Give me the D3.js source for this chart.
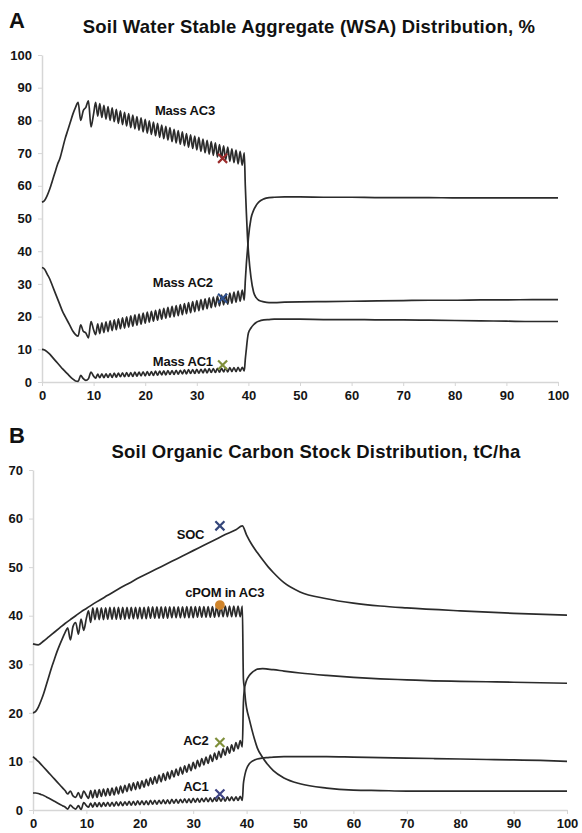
<!DOCTYPE html>
<html>
<head>
<meta charset="utf-8">
<script src="https://cdn.jsdelivr.net/npm/d3@7"></script>
<style>
  body { margin: 0; background: #fff; }
  svg { display: block; font-family: "Liberation Sans", Arial, sans-serif; }
</style>
</head>
<body>
<svg id="chart" width="582" height="833"></svg>
<script>
// time grid (years): early part, the seasonal zigzag part, and after the change at ~39 y
const earlyYears = [0, 0.5, 1, 1.5, 2, 2.5, 3, 3.5, 4, 4.5, 5, 5.5, 6, 6.5, 7, 7.5, 8, 8.5, 9, 9.5, 10];
const zigYears = [10.4, 10.8, 11.2, 11.6, 12, 12.4, 12.8, 13.2, 13.6, 14, 14.4, 14.8, 15.2, 15.6, 16, 16.4, 16.8, 17.2,
  17.6, 18, 18.4, 18.8, 19.2, 19.6, 20, 20.4, 20.8, 21.2, 21.6, 22, 22.4, 22.8, 23.2, 23.6, 24, 24.4, 24.8, 25.2,
  25.6, 26, 26.4, 26.8, 27.2, 27.6, 28, 28.4, 28.8, 29.2, 29.6, 30, 30.4, 30.8, 31.2, 31.6, 32, 32.4, 32.8, 33.2,
  33.6, 34, 34.4, 34.8, 35.2, 35.6, 36, 36.4, 36.8, 37.2, 37.6, 38, 38.4, 38.8, 39.2];
const lateYears = [39.4, 39.6, 39.8, 40, 40.5, 41, 41.5, 42, 43, 44, 45, 47, 50, 55, 60, 65, 70, 75, 80, 85, 90, 95, 100];
const years = earlyYears.concat(zigYears, lateYears);

// Panel A - water stable aggregates, %
const massAC3 = [
  55, 55.5, 57, 59, 61.5, 64, 66.5, 68.5, 71.5, 74.5, 77, 79.5, 82, 84, 85.5, 80, 83, 84, 86, 78, 82,
  85.5, 81.3, 85.1, 80.9, 84.6, 80.4, 84.2, 80.0, 83.8, 79.6,
  83.4, 79.1, 82.9, 78.7, 82.5, 78.3, 82.1, 77.8, 81.6, 77.4,
  81.2, 77.0, 80.8, 76.5, 80.3, 76.1, 79.9, 75.7, 79.5, 75.3,
  79.1, 74.8, 78.6, 74.4, 78.2, 74.0, 77.8, 73.5, 77.3, 73.1,
  76.9, 72.7, 76.5, 72.3, 76.0, 71.8, 75.6, 71.4, 75.2, 71.0,
  74.8, 70.5, 74.3, 70.1, 73.9, 69.7, 73.5, 69.3, 73.1, 68.8,
  72.6, 68.4, 72.2, 68.0, 71.8, 67.5, 71.3, 67.1, 70.9, 66.7,
  70.5, 66.3, 70.1,
  60, 52, 45, 40, 32, 27.5, 25.8, 25, 24.5, 24.3, 24.3, 24.4, 24.5, 24.6, 24.7, 24.8, 24.9, 25, 25, 25.1, 25.1, 25.2, 25.2
];
const massAC2 = [
  35, 34.5, 33, 31.5, 29.5, 27.5, 25.5, 23.5, 21.5, 20, 18.5, 17, 15.5, 14.5, 14, 17.5, 15.5, 15, 13.5, 18.5, 16,
  14.5, 17.8, 14.8, 18.1, 15.1, 18.4, 15.4, 18.7, 15.7, 19.0,
  16.0, 19.3, 16.3, 19.6, 16.5, 19.9, 16.8, 20.2, 17.1, 20.5,
  17.4, 20.8, 17.7, 21.1, 18.0, 21.4, 18.3, 21.6, 18.6, 21.9,
  18.9, 22.2, 19.2, 22.5, 19.5, 22.8, 19.8, 23.1, 20.0, 23.4,
  20.3, 23.7, 20.6, 24.0, 20.9, 24.3, 21.2, 24.6, 21.5, 24.9,
  21.8, 25.2, 22.1, 25.4, 22.4, 25.7, 22.7, 26.0, 23.0, 26.3,
  23.3, 26.6, 23.6, 26.9, 23.8, 27.2, 24.1, 27.5, 24.4, 27.8,
  24.7, 28.1, 25.0,
  31, 36, 40, 44, 50, 52.5, 54, 55, 56, 56.4, 56.5, 56.6, 56.6, 56.5, 56.5, 56.4, 56.4, 56.4, 56.3, 56.3, 56.3, 56.3, 56.3
];
const massAC1 = [
  10, 9.8, 9.2, 8.5, 7.6, 6.7, 5.8, 4.9, 4.0, 3.2, 2.4, 1.6, 0.9, 0.3, 0.2, 2.0, 1.0, 0.5, 1.0, 3.0, 1.8,
  1.2, 2.4, 1.3, 2.5, 1.3, 2.5, 1.4, 2.6, 1.4, 2.7,
  1.5, 2.7, 1.6, 2.8, 1.6, 2.9, 1.7, 2.9, 1.7, 3.0,
  1.8, 3.0, 1.9, 3.1, 1.9, 3.2, 2.0, 3.2, 2.0, 3.3,
  2.1, 3.3, 2.2, 3.4, 2.2, 3.5, 2.3, 3.5, 2.3, 3.6,
  2.4, 3.6, 2.5, 3.7, 2.5, 3.8, 2.6, 3.8, 2.6, 3.9,
  2.7, 3.9, 2.8, 4.0, 2.8, 4.1, 2.9, 4.1, 2.9, 4.2,
  3.0, 4.2, 3.1, 4.3, 3.1, 4.4, 3.2, 4.4, 3.2, 4.5,
  3.3, 4.5, 3.4,
  7, 10, 13, 15, 16.5, 17.5, 18.2, 18.6, 19, 19.1, 19.2, 19.2, 19.2, 19.1, 19.1, 19, 19, 18.9, 18.8, 18.7, 18.6, 18.5, 18.5
];

// Panel B - soil organic carbon stock, tC/ha
const cpomAC3 = [
  20, 20.3, 21.2, 22.5, 24, 25.8, 27.6, 29.4, 31, 32.6, 34, 35.3, 36.5, 37.5, 35, 37.8, 38.6, 36.2, 39.3, 37, 39.5,
  41.0, 38.6, 41.6, 39.2, 41.6, 39.2, 41.6, 39.2, 41.6, 39.3,
  41.7, 39.3, 41.7, 39.3, 41.7, 39.3, 41.7, 39.3, 41.7, 39.4,
  41.7, 39.4, 41.7, 39.4, 41.7, 39.4, 41.7, 39.4, 41.8, 39.5,
  41.8, 39.5, 41.8, 39.5, 41.8, 39.5, 41.8, 39.5, 41.8, 39.6,
  41.8, 39.6, 41.8, 39.6, 41.8, 39.6, 41.9, 39.6, 41.9, 39.6,
  41.9, 39.7, 41.9, 39.7, 41.9, 39.7, 41.9, 39.7, 41.9, 39.7,
  41.9, 39.8, 41.9, 39.8, 42.0, 39.8, 42.0, 39.8, 42.0, 39.8,
  42.0, 39.8, 42.0,
  27, 25, 22.5, 21, 18.7, 16.5, 14.5, 12.8, 10.8, 9.3, 8.1, 6.6, 5.4, 4.5, 4.1, 4.0, 3.9, 3.9, 3.9, 3.9, 3.9, 3.9, 3.9
];
const carbonAC2 = [
  11, 10.5, 10, 9.4, 8.8, 8.2, 7.6, 7.0, 6.4, 5.8, 5.2, 4.6, 4.0, 3.3, 3.9, 2.9, 2.6, 3.6, 2.4, 3.9, 3.0,
  2.4, 4.0, 2.5, 4.1, 2.6, 4.2, 2.8, 4.3, 2.9, 4.4,
  3.0, 4.5, 3.1, 4.7, 3.3, 4.9, 3.5, 5.1, 3.8, 5.4,
  4.0, 5.6, 4.2, 5.8, 4.4, 6.0, 4.7, 6.3, 5.0, 6.6,
  5.3, 6.9, 5.5, 7.2, 5.8, 7.5, 6.1, 7.8, 6.4, 8.1,
  6.8, 8.4, 7.1, 8.8, 7.4, 9.1, 7.8, 9.4, 8.1, 9.8,
  8.5, 10.2, 8.9, 10.6, 9.3, 10.9, 9.6, 11.3, 10.0, 11.7,
  10.4, 12.1, 10.8, 12.6, 11.3, 13.0, 11.7, 13.4, 12.1, 13.9,
  12.6, 14.3, 13.0,
  22, 25, 26, 26.7, 27.7, 28.3, 28.7, 29.0, 29.1, 29.0, 28.9, 28.6, 28.2, 27.7, 27.3, 27.0, 26.8, 26.6, 26.5, 26.4, 26.3, 26.2, 26.1
];
const carbonAC1 = [
  3.5, 3.5, 3.4, 3.2, 3.0, 2.7, 2.4, 2.1, 1.8, 1.5, 1.2, 0.9, 0.6, 0.2, 1.0, 0.5, 0.2, 0.9, 0.1, 1.5, 0.9,
  0.6, 1.4, 0.6, 1.5, 0.7, 1.5, 0.7, 1.5, 0.8, 1.6,
  0.8, 1.6, 0.8, 1.7, 0.9, 1.7, 0.9, 1.7, 1.0, 1.8,
  1.0, 1.8, 1.0, 1.9, 1.1, 1.9, 1.1, 1.9, 1.1, 2.0,
  1.2, 2.0, 1.2, 2.0, 1.3, 2.1, 1.3, 2.1, 1.3, 2.2,
  1.4, 2.2, 1.4, 2.2, 1.5, 2.3, 1.5, 2.3, 1.5, 2.4,
  1.6, 2.4, 1.6, 2.4, 1.7, 2.5, 1.7, 2.5, 1.7, 2.5,
  1.8, 2.6, 1.8, 2.6, 1.8, 2.7, 1.9, 2.7, 1.9, 2.7,
  2.0, 2.8, 2.0,
  5.4, 6.8, 7.8, 8.5, 9.5, 10.0, 10.3, 10.5, 10.7, 10.8, 10.9, 11.0, 11.0, 11.0, 10.9, 10.8, 10.7, 10.6, 10.5, 10.4, 10.3, 10.2, 10.0
];
const socYears = [0, 1, 2, 3, 4, 5, 6, 7, 8, 9, 10, 12, 14, 16, 18, 20, 22, 24, 26, 28, 30, 32, 34, 36, 38, 39.2,
  40, 41, 42, 43, 44, 45, 47, 50, 55, 60, 65, 70, 80, 90, 100];
const soc = [34.2, 34.0, 34.8, 35.7, 36.6, 37.5, 38.4, 39.2, 40.0, 40.8, 41.5, 42.9, 44.2, 45.5, 46.7, 47.9, 49.0,
  50.1, 51.2, 52.3, 53.4, 54.5, 55.6, 56.7, 57.7, 58.5,
  56.6, 54.6, 53.0, 51.5, 50.1, 48.9, 46.8, 44.9, 43.5, 42.6, 42.0, 41.6, 41.0, 40.5, 40.1];

// observed points (year 35)
const obsYear = 35;
const obsA = [68.4, 25.6, 5.2];
const obsB = [58.5, 42.2, 13.9, 3.3];

const xTicks = [0, 10, 20, 30, 40, 50, 60, 70, 80, 90, 100];
const yTicksA = [0, 10, 20, 30, 40, 50, 60, 70, 80, 90, 100];
const yTicksB = [0, 10, 20, 30, 40, 50, 60, 70];

const svg = d3.select("#chart");

function drawPanel(opt) {
    const x = d3.scaleLinear().domain([0, 100]).range([opt.left, opt.right]);
    const y = d3.scaleLinear().domain([0, opt.yMax]).range([opt.bottom, opt.top]);
    const g = svg.append("g");

    g.append("text")
        .attr("x", 9)
        .attr("y", opt.letterY)
        .attr("font-size", 22)
        .attr("font-weight", "bold")
        .attr("fill", "#111")
        .text(opt.letter);

    g.append("text")
        .attr("x", opt.titleX)
        .attr("y", opt.titleY)
        .attr("text-anchor", "middle")
        .attr("font-size", 18.5)
        .attr("font-weight", "bold")
        .attr("letter-spacing", 0.2)
        .attr("fill", "#111")
        .text(opt.title);

    const xAxis = g.append("g")
        .attr("transform", `translate(0,${opt.bottom})`)
        .call(d3.axisBottom(x).tickValues(xTicks).tickSize(4).tickSizeOuter(0).tickPadding(5));
    const yAxis = g.append("g")
        .attr("transform", `translate(${opt.left},0)`)
        .call(d3.axisLeft(y).tickValues(opt.yTicks).tickSize(4).tickSizeOuter(0).tickPadding(6));

    [xAxis, yAxis].forEach(ax => {
        ax.select(".domain").attr("stroke", "#d6d6d6").attr("stroke-width", 1.5);
        ax.selectAll(".tick line").attr("stroke", "#d6d6d6");
        ax.selectAll(".tick text")
            .attr("fill", "#151515")
            .attr("font-size", 13)
            .attr("font-weight", "bold")
            .attr("font-family", "'Liberation Sans', Arial, sans-serif");
    });

    const line = d3.line()
        .curve(d3.curveMonotoneX)
        .x(d => x(d[0]))
        .y(d => y(d[1]));

    opt.series.forEach(s => {
        g.append("path")
            .datum(s.t.map((t, i) => [t, s.v[i]]))
            .attr("fill", "none")
            .attr("stroke", "#2b2b2b")
            .attr("stroke-width", 1.7)
            .attr("stroke-linejoin", "round")
            .attr("d", line);
    });

    opt.obs.forEach(o => {
        g.append("path")
            .attr("transform", `translate(${x(obsYear)},${y(o.v)})`)
            .attr("d", d3.symbol().type(o.shape).size(o.shape === d3.symbolCircle ? 45 : 55)())
            .attr("fill", o.shape === d3.symbolCircle ? o.color : "none")
            .attr("stroke", o.color)
            .attr("stroke-width", 2.2);
    });

    opt.labels.forEach(l => {
        g.append("text")
            .attr("x", x(l.t))
            .attr("y", y(l.v))
            .attr("dy", "0.35em")
            .attr("text-anchor", "middle")
            .attr("font-size", 13)
            .attr("font-weight", "bold")
            .attr("letter-spacing", -0.2)
            .attr("fill", "#111")
            .text(l.text);
    });
}

drawPanel({
    letter: "A", letterY: 28,
    title: "Soil Water Stable Aggregate (WSA) Distribution, %", titleX: 309, titleY: 33,
    left: 42, right: 558, top: 55, bottom: 382, yMax: 100, yTicks: yTicksA,
    series: [
        { t: years, v: massAC3 },
        { t: years, v: massAC2 },
        { t: years, v: massAC1 }
    ],
    obs: [
        { v: obsA[0], color: "#9b2c2c", shape: d3.symbolX },
        { v: obsA[1], color: "#2e4f8c", shape: d3.symbolX },
        { v: obsA[2], color: "#7f8f3a", shape: d3.symbolX }
    ],
    labels: [
        { text: "Mass AC3", t: 27.7, v: 83 },
        { text: "Mass AC2", t: 27.3, v: 30.5 },
        { text: "Mass AC1", t: 27.3, v: 6.4 }
    ]
});

drawPanel({
    letter: "B", letterY: 443,
    title: "Soil Organic Carbon Stock Distribution, tC/ha", titleX: 316, titleY: 458,
    left: 33, right: 567, top: 470, bottom: 810, yMax: 70, yTicks: yTicksB,
    series: [
        { t: socYears, v: soc },
        { t: years, v: cpomAC3 },
        { t: years, v: carbonAC2 },
        { t: years, v: carbonAC1 }
    ],
    obs: [
        { v: obsB[0], color: "#34467a", shape: d3.symbolX },
        { v: obsB[1], color: "#d0852c", shape: d3.symbolCircle },
        { v: obsB[2], color: "#7f8f3a", shape: d3.symbolX },
        { v: obsB[3], color: "#3f4585", shape: d3.symbolX }
    ],
    labels: [
        { text: "SOC", t: 29.5, v: 56.8 },
        { text: "cPOM in AC3", t: 35.9, v: 44.7 },
        { text: "AC2", t: 30.5, v: 14.4 },
        { text: "AC1", t: 30.5, v: 4.8 }
    ]
});
</script>
</body>
</html>
